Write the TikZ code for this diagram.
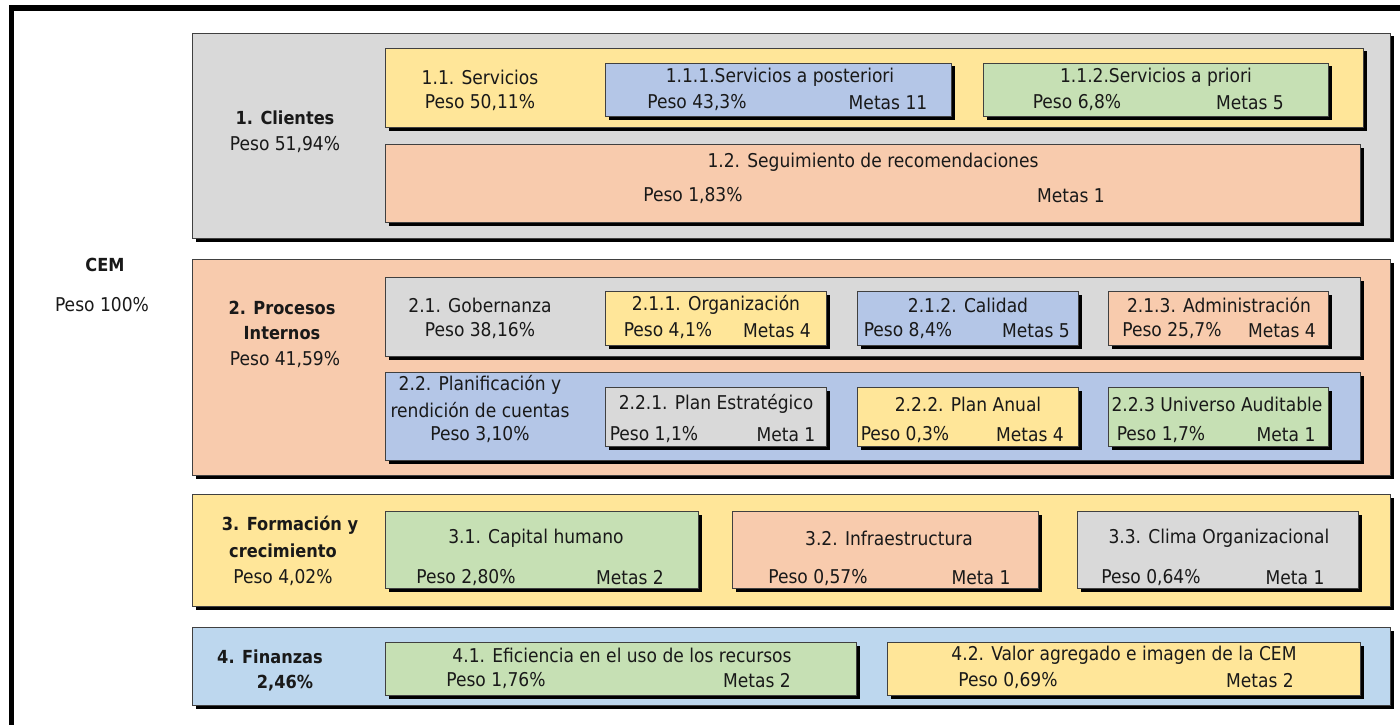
\documentclass[tikz,border=0pt]{standalone}
\usepackage{fontspec}
\setmainfont{DejaVu Sans Condensed}
\usetikzlibrary{shadows}

\definecolor{gris}{HTML}{D9D9D9}
\definecolor{amarillo}{HTML}{FFE699}
\definecolor{azul}{HTML}{B4C6E7}
\definecolor{verde}{HTML}{C6E0B4}
\definecolor{salmon}{HTML}{F8CBAD}
\definecolor{celeste}{HTML}{BDD7EE}

\begin{document}
\begin{tikzpicture}[x=1pt, y=-1pt,
  caja/.style={fill=#1, draw=black!75, line width=0.9pt,
    drop shadow={shadow xshift=3.5pt, shadow yshift=-3.5pt, fill=black, opacity=1}},
  txt/.style={inner sep=0pt, font=\fontsize{19}{22}\selectfont, text=black!90},
  tit/.style={txt, font=\fontsize{18}{21}\selectfont\bfseries}]
\useasboundingbox (0,0) rectangle (1400,725);
\draw[line width=5.5pt] (11.5,740) -- (11.5,8) -- (1410,8);

% 1. Clientes
\path[caja=gris] (192,33) rectangle (1390,238);
\path[caja=amarillo] (385,48) rectangle (1363,127);
\path[caja=azul] (605,63) rectangle (951,116);
\path[caja=verde] (983,63) rectangle (1328,116);
\path[caja=salmon] (385,144) rectangle (1360,222);

% 2. Procesos Internos
\path[caja=salmon] (192,259) rectangle (1390,475);
\path[caja=gris] (385,277) rectangle (1360,356);
\path[caja=amarillo] (605,291) rectangle (826,345);
\path[caja=azul] (857,291) rectangle (1078,345);
\path[caja=salmon] (1108,291) rectangle (1328,345);
\path[caja=azul] (385,372) rectangle (1360,460);
\path[caja=gris] (605,387) rectangle (826,446);
\path[caja=amarillo] (857,387) rectangle (1078,446);
\path[caja=verde] (1108,387) rectangle (1328,446);

% 3. Formacion y crecimiento
\path[caja=amarillo] (192,494) rectangle (1390,606);
\path[caja=verde] (385,511) rectangle (698,588);
\path[caja=salmon] (732,511) rectangle (1038,588);
\path[caja=gris] (1077,511) rectangle (1358,588);

% 4. Finanzas
\path[caja=celeste] (192,627) rectangle (1390,705);
\path[caja=verde] (385,642) rectangle (856,695);
\path[caja=amarillo] (887,642) rectangle (1360,695);

\node[tit] (cem) at (105,265) {CEM};
\node[txt] (cemp) at (102,305) {Peso 100\%};

\node[tit] (c1) at (285,118) {1. Clientes};
\node[txt] (c1p) at (285,145) {Peso 51,94\%};
\node[txt] (c11) at (480,77) {1.1. Servicios};
\node[txt] (c11p) at (480,103) {Peso 50,11\%};
\node[txt] (c111) at (780,77) {1.1.1.Servicios a posteriori};
\node[txt] (c111p) at (697,103) {Peso 43,3\%};
\node[txt] (c111m) at (888,103) {Metas 11};
\node[txt] (c112) at (1156,77) {1.1.2.Servicios a priori};
\node[txt] (c112p) at (1077,103) {Peso 6,8\%};
\node[txt] (c112m) at (1250,103) {Metas 5};
\node[txt] (c12) at (873,162) {1.2. Seguimiento de recomendaciones};
\node[txt] (c12p) at (693,196) {Peso 1,83\%};
\node[txt] (c12m) at (1071,196) {Metas 1};

\node[tit] (p2a) at (282,308) {2. Procesos};
\node[tit] (p2b) at (282,333) {Internos};
\node[txt] (p2p) at (285,360) {Peso 41,59\%};
\node[txt] (p21) at (480,305) {2.1. Gobernanza};
\node[txt] (p21p) at (480,331) {Peso 38,16\%};
\node[txt] (p211) at (716,305) {2.1.1. Organización};
\node[txt] (p211p) at (668,331) {Peso 4,1\%};
\node[txt] (p211m) at (777,331) {Metas 4};
\node[txt] (p212) at (968,305) {2.1.2. Calidad};
\node[txt] (p212p) at (908,331) {Peso 8,4\%};
\node[txt] (p212m) at (1036,331) {Metas 5};
\node[txt] (p213) at (1219,305) {2.1.3. Administración};
\node[txt] (p213p) at (1172,331) {Peso 25,7\%};
\node[txt] (p213m) at (1282,331) {Metas 4};
\node[txt] (p22a) at (480,385) {2.2. Planificación y};
\node[txt] (p22b) at (480,410) {rendición de cuentas};
\node[txt] (p22p) at (480,435) {Peso 3,10\%};
\node[txt] (p221) at (716,404) {2.2.1. Plan Estratégico};
\node[txt] (p221p) at (654,435) {Peso 1,1\%};
\node[txt] (p221m) at (786,435) {Meta 1};
\node[txt] (p222) at (968,404) {2.2.2. Plan Anual};
\node[txt] (p222p) at (905,435) {Peso 0,3\%};
\node[txt] (p222m) at (1030,435) {Metas 4};
\node[txt] (p223) at (1217,404) {2.2.3 Universo Auditable};
\node[txt] (p223p) at (1161,435) {Peso 1,7\%};
\node[txt] (p223m) at (1286,435) {Meta 1};

\node[tit] (f3a) at (290,525) {3. Formación y};
\node[tit] (f3b) at (283,551) {crecimiento};
\node[txt] (f3p) at (283,578) {Peso 4,02\%};
\node[txt] (f31) at (536,538) {3.1. Capital humano};
\node[txt] (f31p) at (466,578) {Peso 2,80\%};
\node[txt] (f31m) at (630,578) {Metas 2};
\node[txt] (f32) at (889,538) {3.2. Infraestructura};
\node[txt] (f32p) at (818,578) {Peso 0,57\%};
\node[txt] (f32m) at (981,578) {Meta 1};
\node[txt] (f33) at (1219,538) {3.3. Clima Organizacional};
\node[txt] (f33p) at (1151,578) {Peso 0,64\%};
\node[txt] (f33m) at (1295,578) {Meta 1};

\node[tit] (n4a) at (270,657) {4. Finanzas};
\node[tit] (n4b) at (285,683) {2,46\%};
\node[txt] (n41) at (622,655) {4.1. Eficiencia en el uso de los recursos};
\node[txt] (n41p) at (496,681) {Peso 1,76\%};
\node[txt] (n41m) at (757,681) {Metas 2};
\node[txt] (n42) at (1124,655) {4.2. Valor agregado e imagen de la CEM};
\node[txt] (n42p) at (1008,681) {Peso 0,69\%};
\node[txt] (n42m) at (1260,681) {Metas 2};
\end{tikzpicture}
\end{document}
